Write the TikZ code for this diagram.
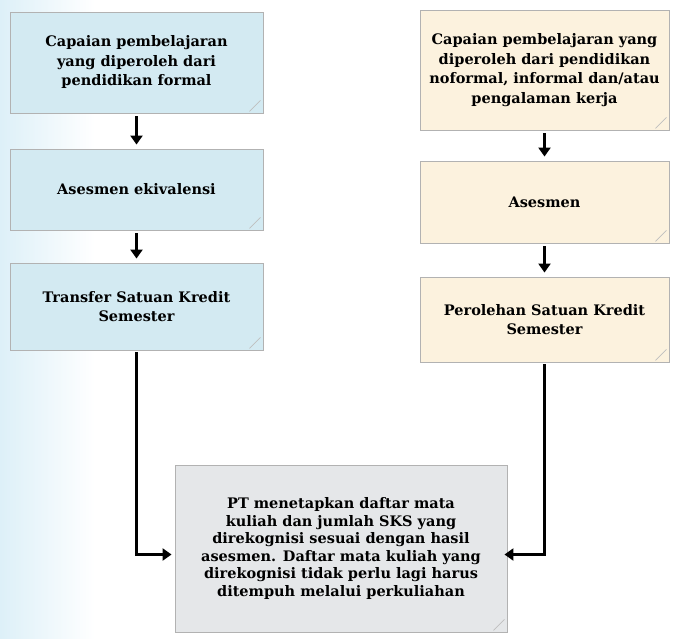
\documentclass[tikz,border=0pt]{standalone}
\usepackage{fontspec}
\setmainfont{DejaVu Serif}
\usetikzlibrary{arrows.meta}
\definecolor{bgblue}{RGB}{221,240,248}
\definecolor{boxblue}{RGB}{211,234,242}
\definecolor{boxcream}{RGB}{252,242,222}
\definecolor{boxgray}{RGB}{229,231,233}
\begin{document}
\begin{tikzpicture}[x=1pt, y=-1pt,
        box/.style={draw=black!30, line width=0.9pt, inner sep=0pt, align=center,
            font=\bfseries\fontsize{14.5}{19.5}\selectfont},
        arrow/.style={line width=3pt, -{Triangle[length=9pt, width=12pt]}}]

            % the frame
            \useasboundingbox (0, 0) rectangle (674, 639);
            \shade[left color=bgblue, right color=white] (0, 0) rectangle (95, 639);

            % formal
            \node[box, fill=boxblue, minimum width=253pt, minimum height=101pt] (l1) at (136.5, 62.5)
                {Capaian pembelajaran\\yang diperoleh dari\\pendidikan formal};
            \node[box, fill=boxblue, minimum width=253pt, minimum height=81pt] (l2) at (136.5, 189.5)
                {Asesmen ekivalensi};
            \node[box, fill=boxblue, minimum width=253pt, minimum height=87pt] (l3) at (136.5, 306.5)
                {Transfer Satuan Kredit\\Semester};

            % nonformal
            \node[box, fill=boxcream, minimum width=249pt, minimum height=120pt] (r1) at (544.5, 70)
                {Capaian pembelajaran yang\\diperoleh dari pendidikan\\noformal, informal dan/atau\\pengalaman kerja};
            \node[box, fill=boxcream, minimum width=249pt, minimum height=82pt] (r2) at (544.5, 202)
                {Asesmen};
            \node[box, fill=boxcream, minimum width=249pt, minimum height=85pt] (r3) at (544.5, 319.5)
                {Perolehan Satuan Kredit\\Semester};

            % result
            \node[box, fill=boxgray, minimum width=332pt, minimum height=167pt,
                font=\bfseries\fontsize{14.5}{17.5}\selectfont] (pt) at (341, 548.5)
                {PT menetapkan daftar mata\\kuliah dan jumlah SKS yang\\direkognisi sesuai dengan hasil\\asesmen. Daftar mata kuliah yang\\direkognisi tidak perlu lagi harus\\ditempuh melalui perkuliahan};

            % corner marks
            \foreach \n in {l1, l2, l3, r1, r2, r3, pt} {
                \draw[black!25, line width=0.6pt] ([shift={(-14, -2)}]\n.south east) -- ([shift={(-3, -13)}]\n.south east);
            }

            % arrows
            \foreach \a/\b in {l1/l2, l2/l3, r1/r2, r2/r3} {
                \draw[arrow, shorten <=3pt, shorten >=4pt] (\a) -- (\b);
            }
            \draw[arrow, shorten <=2pt, shorten >=3pt] (l3.south) |- ([yshift=-6pt]pt.west);
            \draw[arrow, shorten <=2pt, shorten >=-3pt] (r3.south) |- ([yshift=-6pt]pt.east);
        \end{tikzpicture}
\end{document}
